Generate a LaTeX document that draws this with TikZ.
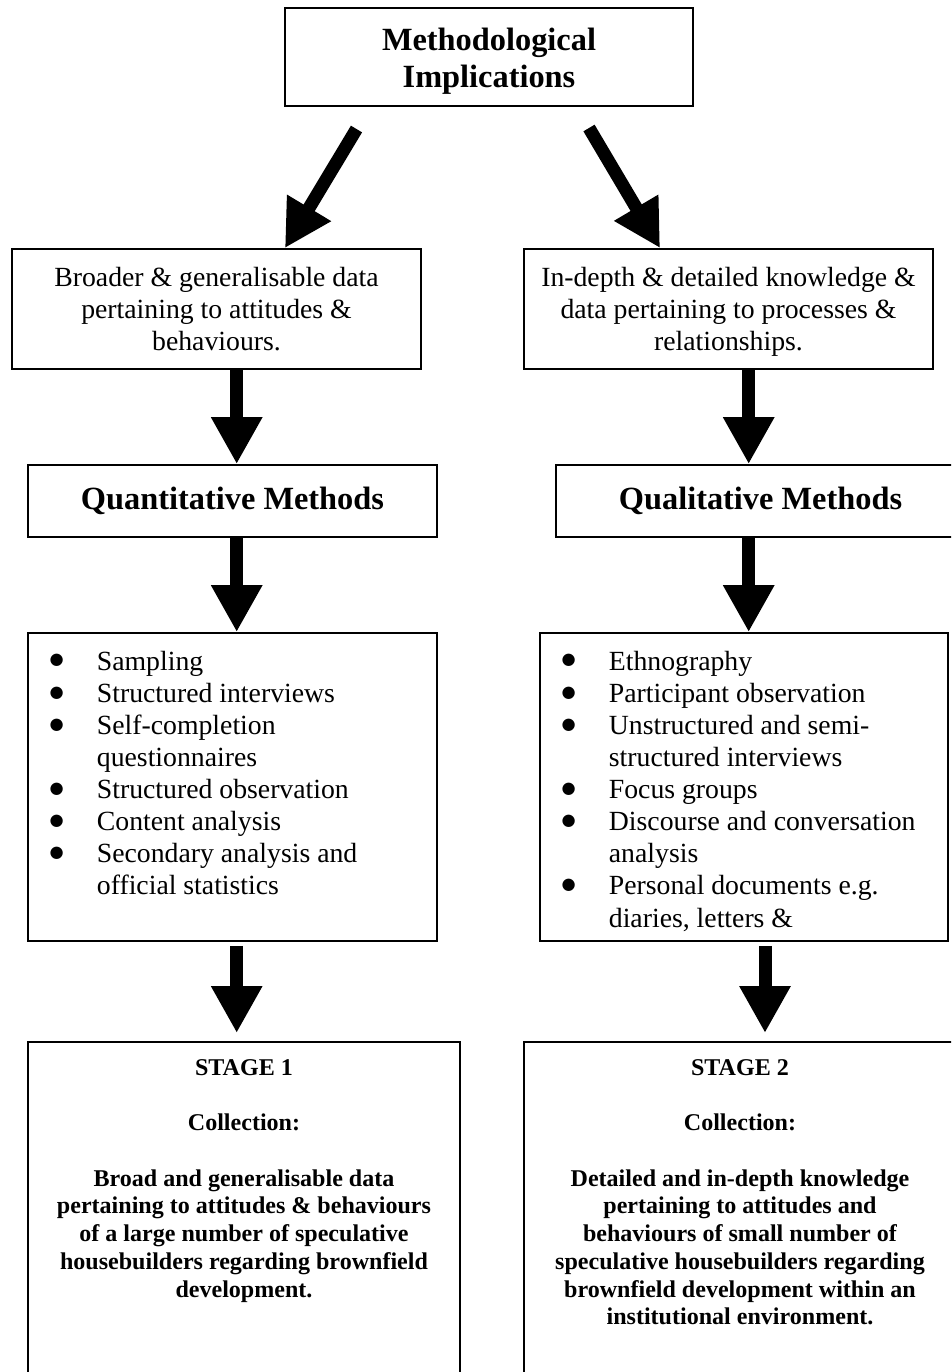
\documentclass[tikz,border=0pt]{standalone}
\usepackage{fontspec}
\setmainfont{Liberation Serif}
\newfontfamily\dotfont{DejaVu Sans}
\usetikzlibrary{positioning,arrows.meta,calc}
\newdimen\px \px=0.4325pt
\newcommand{\mitem}[1]{\hspace*{9.3pt}\makebox[20.5pt][l]{\raisebox{2.2pt}{\dotfont\fontsize{7}{8}\selectfont ●}}\mbox{#1}\par}
\newcommand{\mcont}[1]{\hspace*{29.8pt}\mbox{#1}\par}
\tikzset{
  box/.style={draw, line width=0.8pt, align=center, inner sep=0pt,
              font=\fontsize{12}{13.8}\selectfont},
  headbox/.style={box, font=\fontsize{14}{16.1}\selectfont\bfseries},
  listbox/.style={draw, line width=0.8pt, inner sep=0pt,
              font=\fontsize{12}{13.9}\selectfont},
  stagebox/.style={draw, line width=0.8pt, inner sep=0pt,
              font=\fontsize{10.4}{12}\selectfont\bfseries},
  bigarrow/.style={line width=5.62pt, -{Triangle[length=20.3pt, width=20.8pt]}},
}

\begin{document}
\begin{tikzpicture}[x=\px, y=-\px]
\useasboundingbox (0,0) rectangle (951,1372);
\fill[white] (0,0) rectangle (951,1372);
\clip (0,0) rectangle (951,1372);

\node[headbox, minimum width=408\px, minimum height=98\px] (meth) at (489,57)
  {\rule{0pt}{13.5pt}Methodological\\Implications};

\node[box, minimum width=409\px, minimum height=120\px] (broad) at (216.5,309)
  {Broader \& generalisable data\\pertaining to attitudes \&\\behaviours.};
\node[box, minimum width=409\px, minimum height=120\px] (deep) at (728.5,309)
  {\rule{0pt}{10.5pt}In-depth \& detailed knowledge \&\\data pertaining to processes \&\\relationships.};

\node[headbox, minimum width=409\px, minimum height=72\px] (quant) at (232.5,501)
  {Quantitative Methods};
\node[headbox, minimum width=409\px, minimum height=72\px] (qual) at (760.5,501)
  {Qualitative Methods};

\node[listbox] (listL) at (232.5,787) {\parbox[c][308\px][t]{409\px}{%
  \parindent=0pt\rule{0pt}{16pt}%
  \mitem{Sampling}
  \mitem{Structured interviews}
  \mitem{Self-completion}
  \mcont{questionnaires}
  \mitem{Structured observation}
  \mitem{Content analysis}
  \mitem{Secondary analysis and}
  \mcont{official statistics}}};
\node[listbox] (listR) at (744,787) {\parbox[c][308\px][t]{408\px}{%
  \parindent=0pt\rule{0pt}{16pt}%
  \mitem{Ethnography}
  \mitem{Participant observation}
  \mitem{Unstructured and semi-}
  \mcont{structured interviews}
  \mitem{Focus groups}
  \mitem{Discourse and conversation}
  \mcont{analysis}
  \mitem{Personal documents e.g.}
  \mcont{diaries, letters \&}}};

\node[stagebox] (stageL) at (244,1242) {\parbox[c][400\px][t]{432\px}{\centering
  \rule{0pt}{14.3pt}STAGE 1\\[12pt]
  Collection:\\[12pt]
  Broad and generalisable data\\
  pertaining to attitudes \& behaviours\\
  of a large number of speculative\\
  housebuilders regarding brownfield\\
  development.}};
\node[stagebox] (stageR) at (740,1242) {\parbox[c][400\px][t]{432\px}{\centering
  \rule{0pt}{14.3pt}STAGE 2\\[12pt]
  Collection:\\[12pt]
  Detailed and in-depth knowledge\\
  pertaining to attitudes and\\
  behaviours of small number of\\
  speculative housebuilders regarding\\
  brownfield development within an\\
  institutional environment.}};

% arrow columns and tails
\coordinate (colL) at (236.7,0);
\coordinate (colR) at (748.7,0);
\coordinate (colR2) at (765,0);
\coordinate (tailL) at (356.5,129);
\coordinate (tailR) at (589,128);

\draw[bigarrow] (tailL) -- ([xshift=29.6pt]broad.north);
\draw[bigarrow] (tailR) -- ([xshift=-29.6pt]deep.north);
\draw[bigarrow] (broad.south -| colL) -- (quant.north -| colL);
\draw[bigarrow] (deep.south -| colR) -- (qual.north -| colR);
\draw[bigarrow] (quant.south -| colL) -- (listL.north -| colL);
\draw[bigarrow] (qual.south -| colR) -- (listR.north -| colR);
\draw[bigarrow, shorten >=3.5pt] ($(listL.south -| colL)+(0,4)$) -- (stageL.north -| colL);
\draw[bigarrow, shorten >=3.5pt] ($(listR.south -| colR2)+(0,4)$) -- (stageR.north -| colR2);
\end{tikzpicture}
\end{document}
